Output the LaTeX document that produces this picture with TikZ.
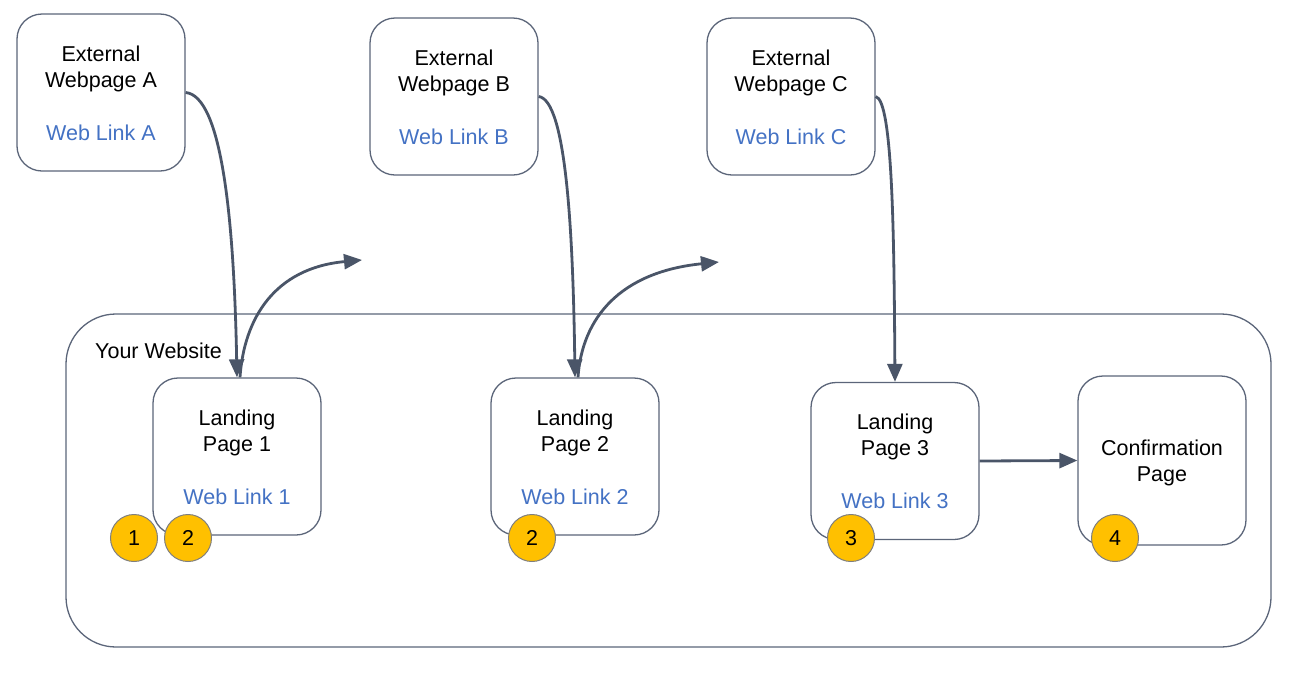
\documentclass[tikz,border=0pt]{standalone}
\usepackage{fontspec}
\setmainfont{Liberation Sans}
\usetikzlibrary{arrows.meta}
\definecolor{edge}{HTML}{4A5568}
\definecolor{boxline}{HTML}{5B6579}
\definecolor{linkblue}{HTML}{4472C4}
\definecolor{badge}{HTML}{FFC000}
\definecolor{badgeline}{HTML}{7F7F7F}
\begin{document}
\begin{tikzpicture}[x=1pt,y=-1pt,
  pagebox/.style={draw=boxline,line width=1.3pt,rounded corners=25pt,minimum width=168pt,minimum height=157pt,inner sep=0pt,fill=white},
  lbl/.style={font=\fontsize{21.5}{26}\selectfont,text=black,inner sep=0pt,align=center},
  lnk/.style={font=\fontsize{21.5}{26}\selectfont,text=linkblue,inner sep=0pt},
  num/.style={circle,draw=badgeline,line width=1pt,fill=badge,minimum size=47pt,inner sep=0pt,font=\fontsize{21.5}{26}\selectfont},
  conn/.style={draw=edge,line width=2.8pt,-{Triangle[length=18pt,width=15pt]}}]
\useasboundingbox (0,0) rectangle (1293,673);
% website container
\node[draw=boxline,line width=1.3pt,rounded corners=50pt,minimum width=1205pt,minimum height=333pt,inner sep=0pt] (web) at (668.5,480.5) {};
\node[lbl,anchor=west] (webl) at (95,351) {Your Website};
% external pages
\node[pagebox] (ea) at (101,92.5) {};
\node[lbl] (eat) at (101,69) {External\\Webpage A};
\node[lnk] (eal) at (101,133) {Web Link A};
\node[pagebox] (eb) at (454,96.5) {};
\node[lbl] (ebt) at (454,73) {External\\Webpage B};
\node[lnk] (ebl) at (454,137) {Web Link B};
\node[pagebox] (ec) at (791,96.5) {};
\node[lbl] (ect) at (791,73) {External\\Webpage C};
\node[lnk] (ecl) at (791,137) {Web Link C};
% landing pages
\node[pagebox] (lp1) at (237,456.5) {};
\node[lbl] (lp1t) at (237,433) {Landing\\Page 1};
\node[lnk] (lp1l) at (237,497) {Web Link 1};
\node[pagebox] (lp2) at (575,456.5) {};
\node[lbl] (lp2t) at (575,433) {Landing\\Page 2};
\node[lnk] (lp2l) at (575,497) {Web Link 2};
\node[pagebox] (lp3) at (895,461) {};
\node[lbl] (lp3t) at (895,437) {Landing\\Page 3};
\node[lnk] (lp3l) at (895,501) {Web Link 3};
\node[pagebox,minimum height=169pt] (cf) at (1162,460.5) {};
\node[lbl] (cft) at (1162,463) {Confirmation\\Page};
% badges
\node[num] (n1) at (134,538) {1};
\node[num] (n2a) at (188,538) {2};
\node[num] (n2b) at (532,538) {2};
\node[num] (n3) at (851,538) {3};
\node[num] (n4) at (1115,538) {4};
% free ends
\coordinate (o1) at (362,260);
\coordinate (o2) at (719,262);
% connectors
\draw[conn] (ea.east) .. controls (222,96) and (234,220) .. (lp1.north);
\draw[conn] ([xshift=3pt]lp1.north) .. controls (244,318) and (275,268) .. (o1);
\draw[conn] (eb.east) .. controls (566,100) and (573,230) .. (lp2.north);
\draw[conn] ([xshift=3pt]lp2.north) .. controls (582,318) and (620,272) .. (o2);
\draw[conn] (ec.east) .. controls (893,100) and (894,240) .. (lp3.north);
\draw[conn] (lp3.east) -- (cf.west);
\end{tikzpicture}
\end{document}
